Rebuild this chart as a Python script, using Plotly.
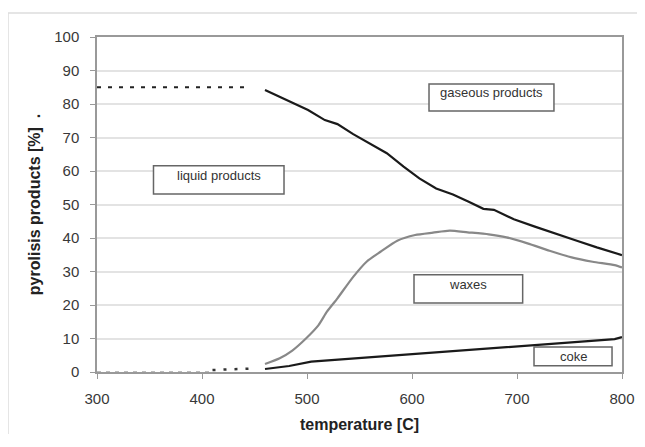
import plotly.graph_objects as go

# ---- data ----
gas_T = [460, 474, 490, 501, 517, 529, 544, 560, 576, 592, 607, 623, 639, 654, 668, 678, 697, 717, 737, 757, 776, 800]
gas_Y = [84.2, 82.2, 79.7, 78.2, 75.2, 74.0, 71.0, 68.2, 65.3, 61.3, 57.8, 54.8, 53.0, 50.8, 48.7, 48.4, 45.6, 43.4, 41.2, 39.2, 37.2, 34.9]

wax_T = [460, 474, 486, 499, 511, 519, 529, 544, 557, 570, 586, 603, 620, 636, 653, 673, 690, 710, 731, 752, 772, 793, 800]
wax_Y = [2.4, 4.1, 6.4, 10.0, 14.0, 18.0, 22.0, 28.4, 33.0, 35.9, 39.2, 40.9, 41.6, 42.2, 41.7, 41.1, 40.2, 38.4, 36.2, 34.2, 32.9, 31.9, 31.2]

coke_T = [460, 483, 504, 525, 546, 566, 587, 608, 628, 649, 669, 690, 710, 731, 752, 772, 793, 800]
coke_Y = [0.9, 1.8, 3.1, 3.6, 4.1, 4.4, 5.0, 5.4, 6.0, 6.4, 7.0, 7.4, 8.0, 8.4, 8.8, 9.3, 9.8, 10.4]

liq_T = [300, 444]
liq_Y = [85, 85]

low_gray_T = [300, 410]
low_gray_Y = [0.1, 0.1]
low_dots_T = [410, 445]
low_dots_Y = [0.6, 1.0]

x_ticks = [300, 400, 500, 600, 700, 800]
y_ticks = [0, 10, 20, 30, 40, 50, 60, 70, 80, 90, 100]

labels = [
    # text, x0, x1, y0, y1, text_y
    ("gaseous products", 616.2, 735.2, 77.9, 86.0, 83.3),
    ("liquid products", 353.8, 478.1, 53.1, 61.6, 58.6),
    ("waxes", 601.9, 705.4, 20.6, 29.0, 26.0),
    ("coke", 716.2, 790.5, 1.9, 7.5, 4.5),
]

FONT = "Liberation Sans, Arial, sans-serif"

fig = go.Figure()
fig.add_trace(go.Scatter(x=low_gray_T, y=low_gray_Y, mode="lines",
                         line=dict(color="#bbbbbb", width=1.2, dash="4px,5px"), hoverinfo="skip"))
fig.add_trace(go.Scatter(x=liq_T, y=liq_Y, mode="lines",
                         line=dict(color="#222222", width=2, dash="4px,7px")))
fig.add_trace(go.Scatter(x=low_dots_T, y=low_dots_Y, mode="lines",
                         line=dict(color="#333333", width=2.5, dash="3px,8px")))
fig.add_trace(go.Scatter(x=wax_T, y=wax_Y, mode="lines", line_shape="spline",
                         line=dict(color="#888888", width=2.2, smoothing=0.6)))
fig.add_trace(go.Scatter(x=gas_T, y=gas_Y, mode="lines",
                         line=dict(color="#1a1a1a", width=2.2)))
fig.add_trace(go.Scatter(x=coke_T, y=coke_Y, mode="lines",
                         line=dict(color="#1a1a1a", width=2.2)))

shapes = []
annotations = []
for txt, x0, x1, y0, y1, ty in labels:
    shapes.append(dict(type="rect", xref="x", yref="y", x0=x0, x1=x1, y0=y0, y1=y1,
                       line=dict(color="#666666", width=1.5), fillcolor="white", layer="above"))
    annotations.append(dict(x=(x0 + x1) / 2, y=ty, xref="x", yref="y", text=txt, showarrow=False,
                            font=dict(family=FONT, size=13, color="#333333")))

# outer light frame (left and top edges only; the rest runs off the picture)
fx0 = (8 - 97) / 525
fy1 = (372 - 13) / 335
shapes.append(dict(type="line", xref="paper", yref="paper", x0=fx0, x1=fx0, y0=fy1, y1=-0.5,
                   line=dict(color="#dddddd", width=1.5), layer="below"))
shapes.append(dict(type="line", xref="paper", yref="paper", x0=fx0, x1=1.3, y0=fy1, y1=fy1,
                   line=dict(color="#dddddd", width=1.5), layer="below"))

# page has an 8px body margin; keep the figure inside the window
fig.update_layout(
    width=637, height=426,
    margin=dict(l=89, r=23, t=29, b=62, autoexpand=False),
    paper_bgcolor="white", plot_bgcolor="white",
    showlegend=False,
    shapes=shapes, annotations=annotations,
    font=dict(family=FONT, color="#333333"),
)
fig.update_xaxes(
    range=[300, 800], tickvals=x_ticks, showgrid=False, automargin=False,
    showline=True, mirror=True, linecolor="#999999", linewidth=1.5,
    ticks="outside", ticklen=5, tickcolor="#999999", tickwidth=1,
    ticklabelstandoff=7,
    tickfont=dict(family=FONT, size=15, color="#383838"),
    title=dict(text="<b>temperature [C]</b>", font=dict(family=FONT, size=16, color="#222222"), standoff=13),
    zeroline=False,
)
fig.update_yaxes(
    range=[0, 100], tickvals=y_ticks, showgrid=True, gridcolor="#e3e3e3", gridwidth=1.5, automargin=False,
    showline=True, mirror=True, linecolor="#999999", linewidth=1.5,
    ticks="outside", ticklen=5, tickcolor="#999999", tickwidth=1,
    ticklabelstandoff=8,
    tickfont=dict(family=FONT, size=15, color="#383838"),
    title=dict(text="<b>pyrolisis products [%]  .</b>", font=dict(family=FONT, size=16, color="#222222"), standoff=10),
    zeroline=False,
)

fig.write_html("out.html")
